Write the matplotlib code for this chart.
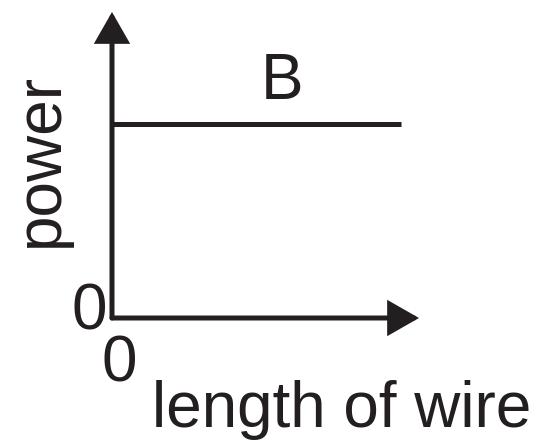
import matplotlib.pyplot as plt

# data: power stays constant as wire length grows (graph B)
length = [0.0, 0.94]
power = [0.634, 0.634]
curve_label = "B"
x_label = "length of wire"
y_label = "power"
origin_ticks = ["0", "0"]

W, H = 545, 441
ink = "#231f20"
plt.rcParams['font.family'] = ['Liberation Sans', 'DejaVu Sans']

fig = plt.figure(figsize=(W / 100, H / 100), dpi=100)
ax = fig.add_axes([112 / W, 123 / H, 307 / W, 306 / H])
ax.set_xlim(0, 1)
ax.set_ylim(0, 1)
ax.axis('off')

# axes with arrow heads
arrow = dict(arrowstyle='-|>,head_length=1.75,head_width=1.0', mutation_scale=10,
             lw=3.6, color=ink, shrinkA=0, shrinkB=0, joinstyle='miter')
ax.annotate('', xy=(1, 0), xytext=(0, 0), xycoords='axes fraction',
            textcoords='axes fraction', arrowprops=arrow)
ax.annotate('', xy=(0, 1), xytext=(0, 0), xycoords='axes fraction',
            textcoords='axes fraction', arrowprops=arrow)

ax.plot(length, power, color=ink, lw=3.6, solid_capstyle='butt')

fs = 46
def px(x, y):
    return x / W, 1 - y / H

fig.text(*px(282, 99), curve_label, fontsize=fs, color=ink, ha='center', va='baseline')
fig.text(*px(89, 330), origin_ticks[0], fontsize=fs, color=ink, ha='center', va='baseline')
fig.text(*px(119, 382), origin_ticks[1], fontsize=fs, color=ink, ha='center', va='baseline')
fig.text(*px(152, 427), x_label, fontsize=fs, color=ink, ha='left', va='baseline')
fig.text(*px(58, 160), y_label, fontsize=fs, color=ink, ha='center', va='baseline',
         rotation=90, rotation_mode='anchor')

fig.savefig('out.png', dpi=100)
